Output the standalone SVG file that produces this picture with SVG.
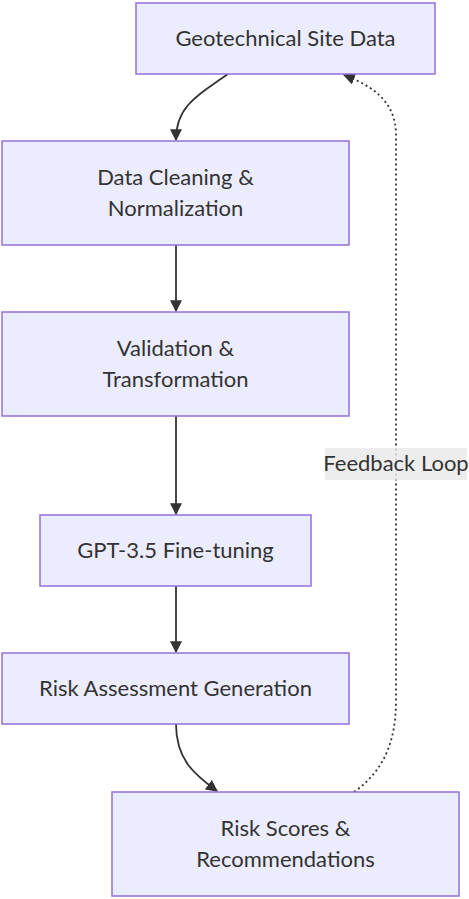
<svg xmlns="http://www.w3.org/2000/svg" width="469" height="899" viewBox="0 0 469 899">
<style>
.node rect{fill:#ECECFF;stroke:#9370DB;stroke-width:1.5}
.node text{font-family:Lato,"Liberation Sans",sans-serif;font-size:22px;fill:#333;text-anchor:middle;dominant-baseline:central}
.edge{fill:none;stroke:#333;stroke-width:1.8}
.dotted{stroke-dasharray:2 3}
.lbl{font-family:Lato,"Liberation Sans",sans-serif;font-size:22px;fill:#333;text-anchor:middle;dominant-baseline:central}
</style>
<defs>
<marker id="arr" viewBox="0 0 10 10" refX="9" refY="5" markerWidth="12" markerHeight="12" markerUnits="userSpaceOnUse" orient="auto">
<path d="M0,0 L10,5 L0,10 z" fill="#333"/>
</marker>
</defs>
<rect width="469" height="899" fill="#fff"/>
<g id="connectors">
<path class="edge" d="M228,74 C190,100 176,110 176,140" marker-end="url(#arr)"/>
<path class="edge" d="M176,245 L176,311" marker-end="url(#arr)"/>
<path class="edge" d="M176,416 L176,514" marker-end="url(#arr)"/>
<path class="edge" d="M176,586 L176,652" marker-end="url(#arr)"/>
<path class="edge" d="M176,724 C176,760 195,775 217,791" marker-end="url(#arr)"/>
<path class="edge dotted" d="M354,792 C385,770 396,740 396,700 L396,135 C396,100 370,85 344,75" marker-end="url(#arr)"/>
<rect x="325" y="448" width="142" height="32" fill="#e8e8e8" opacity="0.8"/>
<text class="lbl" x="396" y="462.5">Feedback Loop</text>
</g>
<g id="geo" class="node"><rect x="136" y="3" width="299" height="71"/><text x="285.5" y="37">Geotechnical Site Data</text></g>
<g id="clean" class="node"><rect x="2" y="141" width="347" height="104"/><text x="175.5" y="176.5">Data Cleaning &amp;</text><text x="175.5" y="207.5">Normalization</text></g>
<g id="valid" class="node"><rect x="2" y="312" width="347" height="104"/><text x="175.5" y="347.5">Validation &amp;</text><text x="175.5" y="378.5">Transformation</text></g>
<g id="gpt" class="node"><rect x="40" y="515" width="271" height="71"/><text x="175.5" y="549">GPT-3.5 Fine-tuning</text></g>
<g id="risk" class="node"><rect x="2" y="653" width="347" height="71"/><text x="175.5" y="687">Risk Assessment Generation</text></g>
<g id="scores" class="node"><rect x="112" y="792" width="347" height="104"/><text x="285.5" y="827.5">Risk Scores &amp;</text><text x="285.5" y="858.5">Recommendations</text></g>
</svg>
